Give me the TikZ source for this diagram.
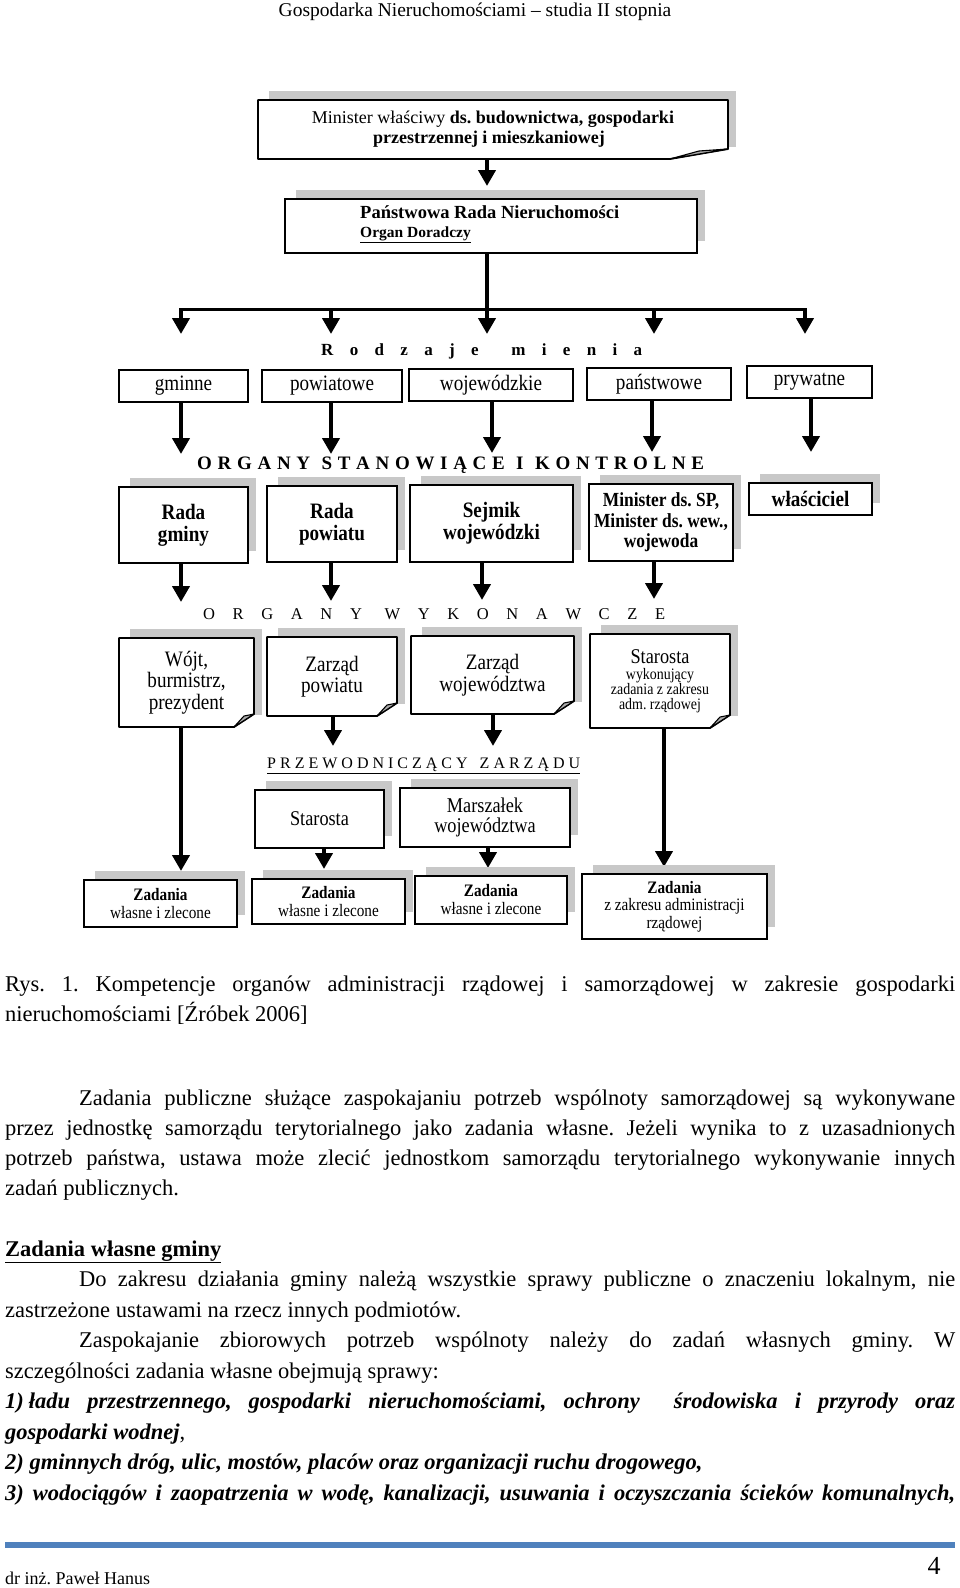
\documentclass[tikz,border=0pt]{standalone}
\usepackage{fontspec}
\setmainfont{Liberation Serif}
\newfontfamily\cnd[FakeStretch=0.87]{Liberation Serif}
\usetikzlibrary{arrows.meta}
\frenchspacing
\definecolor{shd}{RGB}{200,200,200}
\definecolor{flap}{RGB}{170,170,170}
\definecolor{footblue}{RGB}{79,129,189}
\newcommand\fsz[2]{\fontsize{#1pt}{#2pt}\selectfont}
\tikzset{
  x=1pt, y=-1pt,
  plainbox/.style={draw, line width=1.3pt, fill=white, inner sep=0pt, align=center},
  shbox/.style={draw, line width=1.8pt, fill=white, inner sep=0pt, align=center},
  arr/.style={line width=4pt, -{Triangle[length=16pt,width=17pt]}},
  lbl/.style={inner sep=0pt, anchor=mid west},
}
% shadowed box: name x1 y1 x2 y2 font text
\newcommand\mkbox[7]{%
  \fill[shd] (#2+11,#3-9) rectangle (#4+8,#5-12);
  \node[shbox, font=#6, minimum width=#4pt-#2pt, minimum height=#5pt-#3pt] (#1) at ({(#2+#4)/2},{(#3+#5)/2}) {#7};
}
% plain box: name x1 y1 x2 y2 font text
\newcommand\mkplain[7]{%
  \node[plainbox, font=#6, minimum width=#4pt-#2pt, minimum height=#5pt-#3pt] (#1) at ({(#2+#4)/2},{(#3+#5)/2}) {#7};
}
% folded-corner box: name x1 y1 x2 y2 foldw foldh font text
\newcommand\mkfold[9]{%
  \fill[shd] (#2+11,#3-9) rectangle (#4+8,#5-12);
  \filldraw[fill=white, line width=1.8pt, line join=round] (#2,#3) -- (#4,#3) -- (#4,#5-#7) -- (#4-#6,#5) -- (#2,#5) -- cycle;
  \filldraw[fill=flap, line width=1.1pt, line join=round] (#4-#6,#5) -- ({#4-#6/2},{#5-#7+2}) -- (#4,#5-#7) -- cycle;
  \node[inner sep=0pt, align=center, font=#8, minimum width=#4pt-#2pt, minimum height=#5pt-#3pt] (#1) at ({(#2+#4)/2},{(#3+#5)/2}) {#9};
}
\begin{document}
\begin{tikzpicture}
\fill[white] (0,0) rectangle (960,1588);
\useasboundingbox (0,0) rectangle (960,1588);

% header
\node[inner sep=0pt] (hdr) at (475,12) {\fsz{19.5}{20}Gospodarka Nieruchomościami – studia II stopnia};

% top boxes
\mkfold{A}{258}{100}{728}{159}{58}{10}{\fsz{18}{20}}{Minister właściwy \textbf{ds. budownictwa, gospodarki}\\\textbf{przestrzennej i mieszkaniowej}\hspace*{8pt}}
\mkbox{B}{285}{199}{697}{253}{}{}
\node[lbl] (Bt1) at (360,216) {\fsz{18.5}{20}\bfseries Państwowa Rada Nieruchomości};
\node[lbl] (Bt2) at (360,235) {\fsz{15.5}{16}\bfseries\underline{Organ Doradczy}};

\coordinate (tA) at (487,186);
\coordinate (bar) at (487,309);
\coordinate (tb1) at (181,334);
\coordinate (tb2) at (331,334);
\coordinate (tb3) at (487,334);
\coordinate (tb4) at (654,334);
\coordinate (tb5) at (805,334);
\draw[arr] (A.south -| tA) -- (tA);
\draw[line width=3pt] ([xshift=-2pt]tb1 |- bar) -- ([xshift=2pt]tb5 |- bar);
\draw[arr] (B.south -| bar) -- (tb3);
\draw[arr] (tb1 |- bar) -- (tb1);
\draw[arr] (tb2 |- bar) -- (tb2);
\draw[arr] (tb4 |- bar) -- (tb4);
\draw[arr] (tb5 |- bar) -- (tb5);

% Rodzaje mienia
\node[lbl] (hRM) at (321,353) {\fsz{17}{17}\bfseries\makebox[321pt][s]{R o d z a j e \ m i e n i a}};

% row 2
\mkplain{gm}{119}{370}{248}{402}{\cnd\fsz{22}{22}}{gminne}
\mkplain{pw}{262}{370}{402}{402}{\cnd\fsz{22}{22}}{powiatowe}
\mkplain{wj}{409}{369}{573}{401}{\cnd\fsz{22}{22}}{wojewódzkie}
\mkplain{pn}{587}{368}{731}{400}{\cnd\fsz{22}{22}}{państwowe}
\mkplain{pr}{747}{366}{872}{398}{\cnd\fsz{22}{22}}{prywatne}

\coordinate (t21) at (181,454);
\coordinate (t22) at (331,454);
\coordinate (t23) at (492,453);
\coordinate (t24) at (652,452);
\coordinate (t25) at (811,452);

% ORGANY STANOWIACE
\node[lbl] (hOS) at (197,467) {\fsz{19}{19}\bfseries\makebox[507pt][s]{O R G A N Y \ S T A N O W I Ą C E \ I \ K O N T R O L N E}};

% row 3
\mkbox{rg}{119}{487}{248}{563}{\cnd\bfseries\fsz{22}{22}}{Rada\\gminy}
\mkbox{rp}{267}{486}{397}{562}{\cnd\bfseries\fsz{22}{22}}{Rada\\powiatu}
\mkbox{sw}{410}{485}{573}{562}{\cnd\bfseries\fsz{22}{22}}{Sejmik\\wojewódzki}
\mkbox{ms}{589}{484}{733}{561}{\cnd\bfseries\fsz{20}{20.5}}{Minister ds. SP,\\Minister ds. wew.,\\wojewoda}
\mkbox{wl}{749}{483}{872}{515}{\cnd\bfseries\fsz{22}{22}}{właściciel}

\draw[arr] (gm.south -| t21) -- (t21);
\draw[arr] (pw.south -| t22) -- (t22);
\draw[arr] (wj.south -| t23) -- (t23);
\draw[arr] (pn.south -| t24) -- (t24);
\draw[arr] (pr.south -| t25) -- (t25);

\coordinate (t31) at (181,602);
\coordinate (t32) at (331,601);
\coordinate (t33) at (482,600);
\coordinate (t34) at (654,599);
\draw[arr] (rg.south -| t31) -- (t31);
\draw[arr] (rp.south -| t32) -- (t32);
\draw[arr] (sw.south -| t33) -- (t33);
\draw[arr] (ms.south -| t34) -- (t34);

% ORGANY WYKONAWCZE
\node[lbl] (hOW) at (203,617) {\fsz{16.5}{17}\makebox[462pt][s]{O R G A N Y \kern5pt W Y K O N A W C Z E}};

% row 4
\mkfold{wo}{119}{638}{254}{727}{20}{13}{\cnd\fsz{22}{21.5}}{Wójt,\\burmistrz,\\prezydent}
\mkfold{zp}{267}{637}{397}{716}{20}{13}{\cnd\fsz{22}{21.5}}{Zarząd\\powiatu}
\mkfold{zw}{411}{636}{574}{714}{20}{13}{\cnd\fsz{22}{21.5}}{Zarząd\\województwa}
\mkfold{st}{590}{634}{730}{728}{20}{13}{\cnd\fsz{16}{15}}{\fsz{21}{18}Starosta\\[1pt]wykonujący\\zadania z zakresu\\adm. rządowej}

\coordinate (t42) at (333,746);
\coordinate (t43) at (493,746);
\coordinate (t41) at (181,871);
\coordinate (t44) at (664,867);
\draw[arr] (zp.south -| t42) -- (t42);
\draw[arr] (zw.south -| t43) -- (t43);
\draw[arr] (wo.south -| t41) -- (t41);
\draw[arr] (st.south -| t44) -- (t44);

% PRZEWODNICZACY ZARZADU
\node[lbl] (hPZ) at (267,766) {\fsz{16}{16}\underline{\makebox[313pt][s]{P R Z E W O D N I C Z Ą C Y \ \ Z A R Z Ą D U}}};

% row 5
\mkbox{s2}{255}{790}{384}{848}{\cnd\fsz{21}{20}}{Starosta}
\mkbox{mw}{400}{788}{570}{847}{\cnd\fsz{21}{20}}{Marszałek\\województwa}
\coordinate (t52) at (324,869);
\coordinate (t53) at (488,868);
\draw[arr] (s2.south -| t52) -- (t52);
\draw[arr] (mw.south -| t53) -- (t53);

% bottom row
\mkbox{z1}{84}{880}{237}{927}{\cnd\fsz{17.5}{18}}{\textbf{Zadania}\\własne i zlecone}
\mkbox{z2}{252}{879}{405}{924}{\cnd\fsz{17.5}{18}}{\textbf{Zadania}\\własne i zlecone}
\mkbox{z3}{415}{876}{567}{924}{\cnd\fsz{17.5}{18}}{\textbf{Zadania}\\własne i zlecone}
\mkbox{z4}{582}{874}{767}{939}{\cnd\fsz{17.5}{17.5}}{\textbf{Zadania}\\z zakresu administracji\\rządowej}

% caption and body text
\node[lbl] (c1) at (5,989) {\fsz{22.5}{30}\makebox[950pt][s]{Rys. 1. Kompetencje organów administracji rządowej i samorządowej w zakresie gospodarki}};
\node[lbl] (c2) at (5,1019) {\fsz{22.5}{30}nieruchomościami [Źróbek 2006]};

\node[lbl] (p1) at (79,1103) {\fsz{22.5}{30}\makebox[876pt][s]{Zadania publiczne służące zaspokajaniu potrzeb wspólnoty samorządowej są wykonywane}};
\node[lbl] (p2) at (5,1133) {\fsz{22.5}{30}\makebox[950pt][s]{przez jednostkę samorządu terytorialnego jako zadania własne. Jeżeli wynika to z uzasadnionych}};
\node[lbl] (p3) at (5,1163) {\fsz{22.5}{30}\makebox[950pt][s]{potrzeb państwa, ustawa może zlecić jednostkom samorządu terytorialnego wykonywanie innych}};
\node[lbl] (p4) at (5,1193) {\fsz{22.5}{30}zadań publicznych.};

\node[lbl] (s1) at (5,1254) {\fsz{22.5}{30}\bfseries\underline{Zadania własne gminy}};
\node[lbl] (q1) at (79,1284) {\fsz{22.5}{30}\makebox[876pt][s]{Do zakresu działania gminy należą wszystkie sprawy publiczne o znaczeniu lokalnym, nie}};
\node[lbl] (q2) at (5,1315) {\fsz{22.5}{30}zastrzeżone ustawami na rzecz innych podmiotów.};
\node[lbl] (q3) at (79,1345) {\fsz{22.5}{30}\makebox[876pt][s]{Zaspokajanie zbiorowych potrzeb wspólnoty należy do zadań własnych gminy. W}};
\node[lbl] (q4) at (5,1376) {\fsz{22.5}{30}szczególności zadania własne obejmują sprawy:};
\node[lbl] (q5) at (5,1406) {\fsz{22.5}{30}\bfseries\itshape\makebox[950pt][s]{1)\hspace{5pt}ładu przestrzennego, gospodarki nieruchomościami, ochrony \ środowiska i przyrody oraz}};
\node[lbl] (q6) at (5,1437) {\fsz{22.5}{30}\textbf{\textit{gospodarki wodnej}},};
\node[lbl] (q7) at (5,1467) {\fsz{22.5}{30}\bfseries\itshape 2) gminnych dróg, ulic, mostów, placów oraz organizacji ruchu drogowego,};
\node[lbl] (q8) at (5,1498) {\fsz{22.5}{30}\bfseries\itshape\makebox[950pt][s]{3) wodociągów i zaopatrzenia w wodę, kanalizacji, usuwania i oczyszczania ścieków komunalnych,}};

% footer
\coordinate (fl) at (5,1545);
\coordinate (fr) at (955,1545);
\draw[footblue, line width=5.5pt] (fl) -- (fr);
\node[inner sep=0pt] (pg) at (934,1566) {\fsz{26}{26}4};
\node[lbl] (auth) at (5,1582) {\fsz{18}{18}dr inż. Paweł Hanus};
\end{tikzpicture}
\end{document}
